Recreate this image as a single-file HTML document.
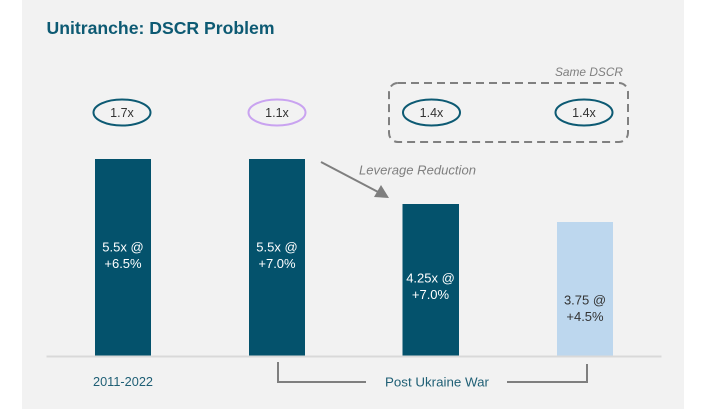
<!DOCTYPE html>
<html><head><meta charset="utf-8"><style>
html,body{margin:0;padding:0;background:#fff;}
svg{display:block;}
text{font-family:"Liberation Sans",sans-serif;}
</style></head><body>
<svg width="708" height="409" viewBox="0 0 708 409" xmlns="http://www.w3.org/2000/svg">
<rect x="0" y="0" width="708" height="409" fill="#ffffff"/>
<rect x="22" y="0" width="662" height="409" fill="#f2f2f2"/>
<text x="46.5" y="34" font-size="17.6" font-weight="bold" fill="#0d5a73" textLength="228" lengthAdjust="spacingAndGlyphs">Unitranche: DSCR Problem</text>

<!-- dashed box -->
<rect x="389" y="83" width="239" height="59" rx="9" ry="9" fill="none" stroke="#808080" stroke-width="2" stroke-dasharray="8,5"/>
<text x="555" y="76" font-size="12" font-style="italic" fill="#7f7f7f" textLength="68" lengthAdjust="spacingAndGlyphs">Same DSCR</text>

<!-- ellipses -->
<ellipse cx="122" cy="112.5" rx="28.5" ry="13" fill="none" stroke="#0d5a73" stroke-width="2"/>
<text x="122" y="117" font-size="12.5" fill="#333" text-anchor="middle">1.7x</text>
<ellipse cx="277" cy="112.5" rx="28.5" ry="13" fill="none" stroke="#c9a3f0" stroke-width="2"/>
<text x="277" y="117" font-size="12.5" fill="#333" text-anchor="middle">1.1x</text>
<ellipse cx="431.5" cy="112.5" rx="28.5" ry="13" fill="none" stroke="#0d5a73" stroke-width="2"/>
<text x="431.5" y="117" font-size="12.5" fill="#333" text-anchor="middle">1.4x</text>
<ellipse cx="584" cy="112.5" rx="28.5" ry="13" fill="none" stroke="#0d5a73" stroke-width="2"/>
<text x="584" y="117" font-size="12.5" fill="#333" text-anchor="middle">1.4x</text>

<!-- arrow -->
<line x1="321" y1="162" x2="380" y2="193" stroke="#7f7f7f" stroke-width="2"/>
<polygon points="389,198 374,197 381,185" fill="#7f7f7f"/>
<text x="359" y="174.5" font-size="13" font-style="italic" fill="#7f7f7f" textLength="117" lengthAdjust="spacingAndGlyphs">Leverage Reduction</text>

<!-- bars -->
<rect x="95" y="159" width="56" height="198" fill="#04526c"/>
<rect x="249" y="159" width="56" height="198" fill="#04526c"/>
<rect x="402.5" y="204" width="56.5" height="153" fill="#04526c"/>
<rect x="557" y="222" width="56" height="135" fill="#bdd7ee"/>

<!-- axis -->
<line x1="46.5" y1="356.5" x2="661.5" y2="356.5" stroke="#d9d9d9" stroke-width="2"/>

<!-- bar labels -->
<text font-size="13" fill="#ffffff" text-anchor="middle"><tspan x="123" y="251.5">5.5x @</tspan><tspan x="123" y="268">+6.5%</tspan></text>
<text font-size="13" fill="#ffffff" text-anchor="middle"><tspan x="277" y="251.5">5.5x @</tspan><tspan x="277" y="268">+7.0%</tspan></text>
<text font-size="13" fill="#ffffff" text-anchor="middle"><tspan x="430.5" y="282.5">4.25x @</tspan><tspan x="430.5" y="299">+7.0%</tspan></text>
<text font-size="13" fill="#333333" text-anchor="middle"><tspan x="585" y="304.5">3.75 @</tspan><tspan x="585" y="321">+4.5%</tspan></text>

<!-- category labels -->
<text x="123" y="386" font-size="13" fill="#1f5f75" text-anchor="middle" textLength="60" lengthAdjust="spacingAndGlyphs">2011-2022</text>
<polyline points="278,362 278,382 366,382" fill="none" stroke="#7f7f7f" stroke-width="2"/>
<polyline points="507,382 587,382 587,364" fill="none" stroke="#7f7f7f" stroke-width="2"/>
<text x="385" y="386.5" font-size="13" fill="#1f5f75" textLength="104" lengthAdjust="spacingAndGlyphs">Post Ukraine War</text>
</svg>
</body></html>
